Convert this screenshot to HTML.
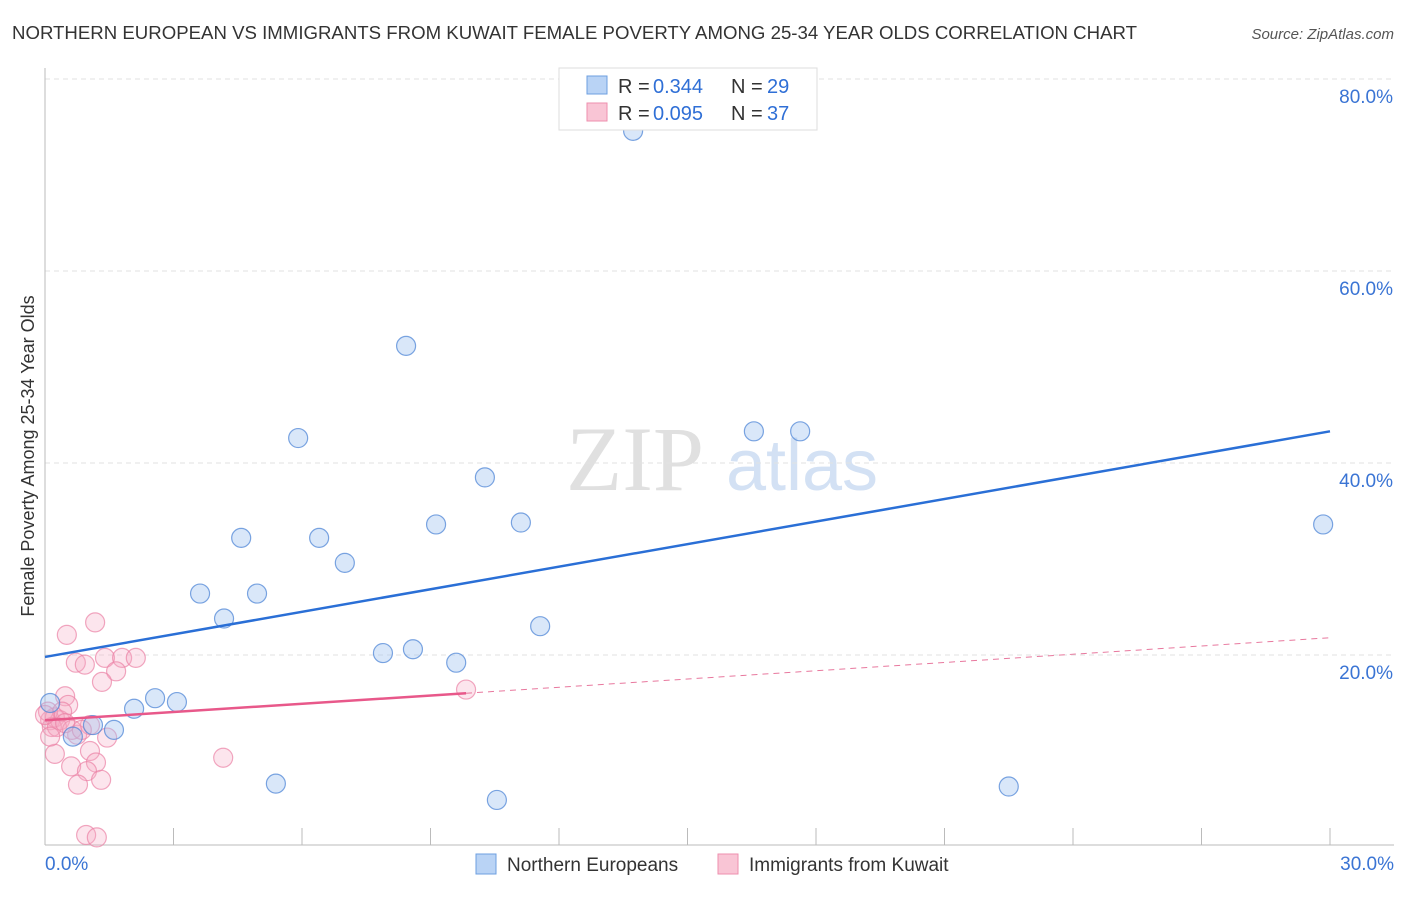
<!DOCTYPE html>
<html><head><meta charset="utf-8"><style>
body{margin:0;background:#fff;font-family:"Liberation Sans",sans-serif}
</style></head><body>
<svg id="chart" width="1406" height="892" xmlns="http://www.w3.org/2000/svg" font-family="Liberation Sans, sans-serif">
<text x="12" y="39" font-size="18" fill="#333" textLength="1125" lengthAdjust="spacingAndGlyphs">NORTHERN EUROPEAN VS IMMIGRANTS FROM KUWAIT FEMALE POVERTY AMONG 25-34 YEAR OLDS CORRELATION CHART</text>
<text x="1394" y="39" font-size="15" fill="#555" text-anchor="end" font-style="italic">Source: ZipAtlas.com</text>
<text transform="translate(34,456) rotate(-90)" font-size="18" fill="#333" text-anchor="middle">Female Poverty Among 25-34 Year Olds</text>
<g><text x="635" y="490" font-size="92" fill="#e0e0e0" text-anchor="middle" font-family="Liberation Serif, serif">ZIP</text><text x="802" y="490" font-size="72" fill="#d3e1f4" text-anchor="middle">atlas</text></g>
<g id="grid"></g><g id="axes"></g><g id="marks"></g>
<g>
<rect x="559" y="68" width="258" height="62" fill="#fff" stroke="#ddd"/>
<rect x="587" y="76" width="20" height="18" fill="#b9d3f5" stroke="#6d9fe0"/>
<text x="618" y="93" font-size="20" fill="#333">R =</text><text x="653" y="93" font-size="20" fill="#2f6fd6">0.344</text>
<text x="731" y="93" font-size="20" fill="#333">N =</text><text x="767" y="93" font-size="20" fill="#2f6fd6">29</text>
<rect x="587" y="103" width="20" height="18" fill="#f9c5d5" stroke="#ee8fae"/>
<text x="618" y="120" font-size="20" fill="#333">R =</text><text x="653" y="120" font-size="20" fill="#2f6fd6">0.095</text>
<text x="731" y="120" font-size="20" fill="#333">N =</text><text x="767" y="120" font-size="20" fill="#2f6fd6">37</text>
</g>
<g>
<rect x="476" y="854" width="20" height="20" fill="#b9d3f5" stroke="#6d9fe0"/>
<text x="507" y="871" font-size="19" fill="#333">Northern Europeans</text>
<rect x="718" y="854" width="20" height="20" fill="#f9c5d5" stroke="#ee8fae"/>
<text x="749" y="871" font-size="19" fill="#333">Immigrants from Kuwait</text>
</g>
</svg>
<script>
const blueX=[0.12,0.65,1.12,1.61,2.08,2.57,3.08,3.62,4.18,4.58,4.95,5.39,5.91,6.40,7.00,7.89,8.43,8.59,9.13,9.60,10.27,10.55,11.11,11.56,13.73,16.55,17.63,22.50,29.84];
const blueY=[15.0,11.5,12.7,12.2,14.4,15.5,15.1,26.4,23.8,32.2,26.4,6.6,42.6,32.2,29.6,20.2,52.2,20.6,33.6,19.2,38.5,4.9,33.8,23.0,74.6,43.3,43.3,6.3,33.6];
const pinkX=[0.51,1.17,0.72,0.93,1.40,1.80,2.12,1.66,1.33,0.47,0.54,0.12,0.23,0.35,0.16,0.28,1.05,0.75,1.45,0.23,0.61,1.05,1.19,0.98,0.77,1.31,4.16,0.96,1.21,9.83,0.07,0.40,0.63,0.12,0.47,0.0,0.86];
const pinkY=[22.1,23.4,19.2,19.0,19.7,19.7,19.7,18.3,17.2,15.7,14.8,13.2,13.5,13.2,12.5,12.5,12.7,11.7,11.4,9.7,8.4,10.0,8.8,7.9,6.5,7.0,9.3,1.25,1.0,16.4,14.1,14.1,12.2,11.5,12.9,13.75,12.2];
const blueTrend=[19.8,43.3];
const pinkTrend=[13.2,21.8];
const yTicks=[20,40,60,80];
const xTickLabels=["0.0%","30.0%"];
const NS="http://www.w3.org/2000/svg";
const X=v=>45+v/30*1285, Y=v=>847-v/20*192;
function mk(parent,tag,attrs){const e=document.createElementNS(NS,tag);for(const k in attrs)e.setAttribute(k,attrs[k]);document.getElementById(parent).appendChild(e);return e;}
yTicks.forEach(t=>{
 const l=mk('grid','line',{x1:45,x2:1394,y1:Y(t),y2:Y(t),stroke:'#e2e2e2','stroke-dasharray':'5,4'});
 
 
 const tx=mk('grid','text',{x:1393,y:Y(t)+24,'font-size':19,fill:'#3a74d4','text-anchor':'end'});
 tx.textContent=t.toFixed(1)+'%';
 
 
});
const ax=mk('axes','line',{x1:45,x2:45,y1:68,y2:845,stroke:'#bbb'});


const bx=mk('axes','line',{x1:45,x2:1394,y1:845,y2:845,stroke:'#bbb'});


for(let i=0;i<=10;i++){const t=mk('axes','line',{x1:X(i*3),x2:X(i*3),y1:828,y2:845,stroke:'#bbb'});
 
 }
[[0,'start',45],[30,'end',1394]].forEach((d,i)=>{const t=mk('axes','text',{x:d[2],y:870,'font-size':19,fill:'#3a74d4','text-anchor':d[1]});t.textContent=xTickLabels[i];
 
 });
pinkX.forEach((x,i)=>{const c=mk('marks','circle',{cx:X(x),cy:Y(pinkY[i]),r:9.5,fill:'rgba(246,170,195,0.3)',stroke:'rgba(235,130,165,0.7)','stroke-width':1.2});
 
 });
blueX.forEach((x,i)=>{const c=mk('marks','circle',{cx:X(x),cy:Y(blueY[i]),r:9.5,fill:'rgba(160,195,240,0.4)',stroke:'rgba(80,135,215,0.75)','stroke-width':1.2});
 
 });
const bt=mk('marks','line',{x1:X(0),y1:Y(blueTrend[0]),x2:X(30),y2:Y(blueTrend[1]),stroke:'#2a6fd6','stroke-width':2.5});


const xe=9.83, pe=pinkTrend[0]+(pinkTrend[1]-pinkTrend[0])*xe/30;
const pt=mk('marks','line',{x1:X(0),y1:Y(pinkTrend[0]),x2:X(xe),y2:Y(pe),stroke:'#e8588a','stroke-width':2.5});


const pd=mk('marks','line',{x1:X(xe),y1:Y(pe),x2:X(30),y2:Y(pinkTrend[1]),stroke:'#e8789e','stroke-width':1,'stroke-dasharray':'6,5'});


</script>
</body></html>
